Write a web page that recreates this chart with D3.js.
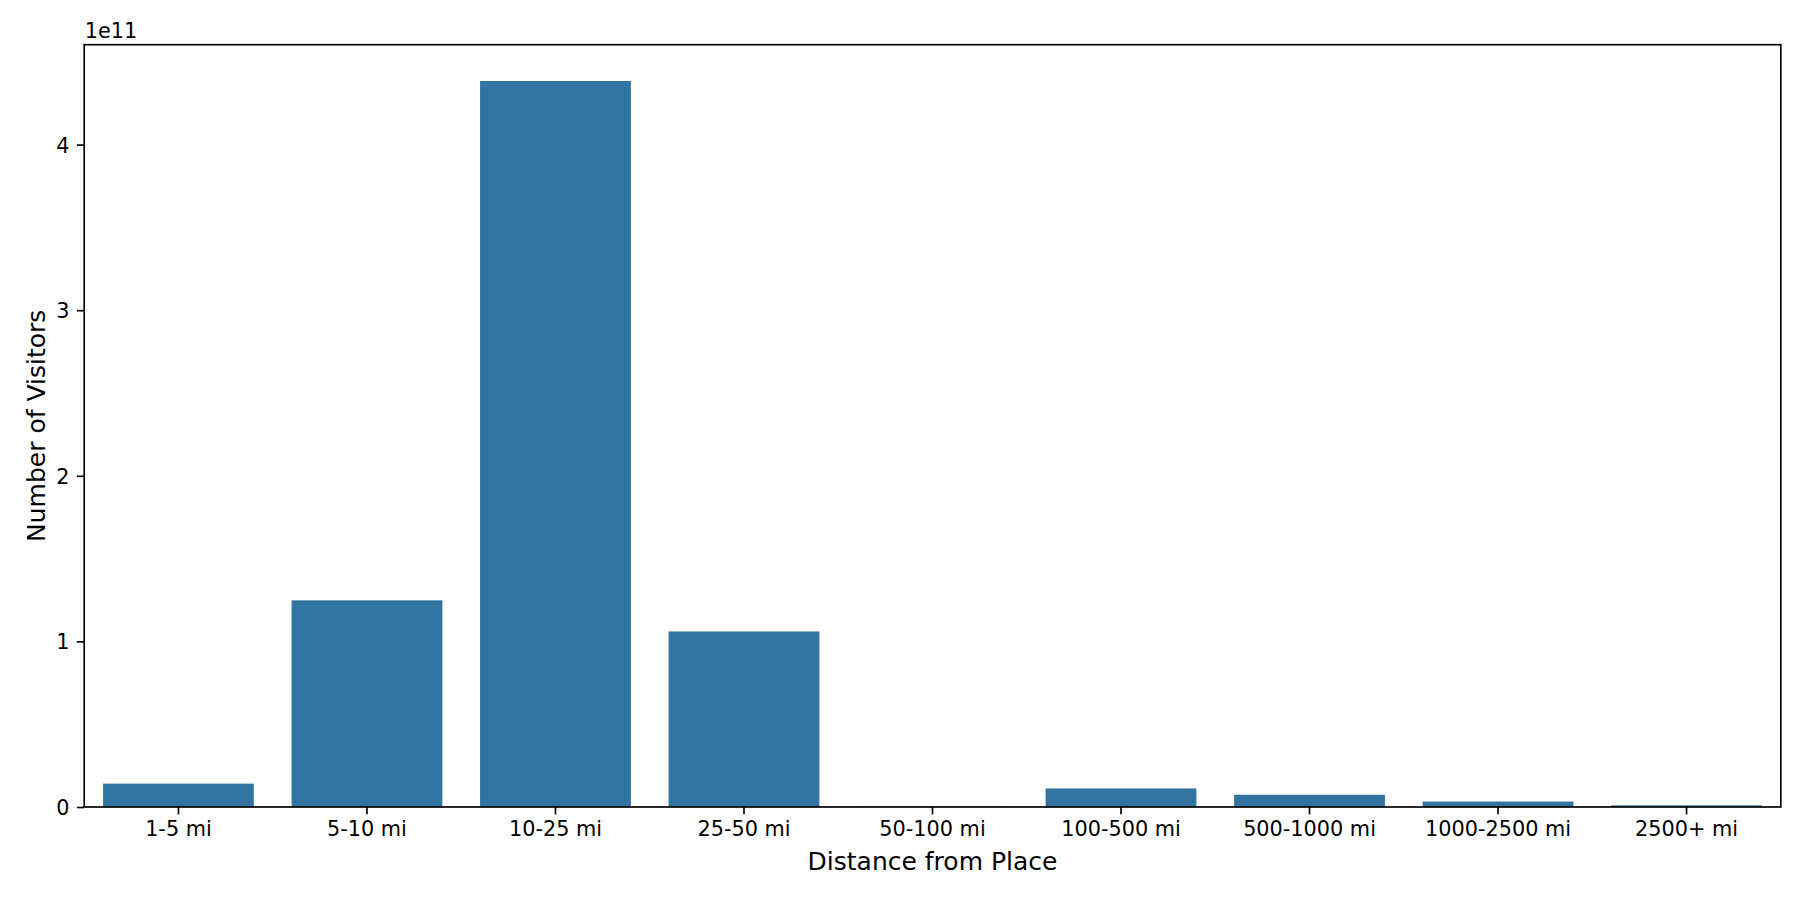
<!DOCTYPE html>
<html>
<head>
<meta charset="utf-8">
<script src="https://cdn.jsdelivr.net/npm/d3@7"></script>
<style>
  body { margin: 0; background: #fff; }
  svg text { font-family: "DejaVu Sans", sans-serif; fill: #000; }
</style>
</head>
<body>
<div class="visualize"></div>
<script>
// distance buckets and visitor totals
var categories = ["1-5 mi", "5-10 mi", "10-25 mi", "25-50 mi", "50-100 mi",
                  "100-500 mi", "500-1000 mi", "1000-2500 mi", "2500+ mi"];
var visitors = [1.41e10, 1.248e11, 4.384e11, 1.06e11, 3e8,
                1.12e10, 7.4e9, 3.3e9, 1.0e9];
var yTicks = [0, 1, 2, 3, 4];
var yOffsetLabel = "1e11";

var W = 1800, H = 900;
var margin = {top: 44.7, right: 1800 - 1780.8, bottom: 900 - 807, left: 84.2},
    width = W - margin.left - margin.right,
    height = H - margin.top - margin.bottom;

var barColor = "#3274a1";
var tickFont = 20.8, labelFont = 25;

var data = categories.map(function(c, i) { return {name: c, value: visitors[i]}; });

var x = d3.scaleBand().domain(categories).range([0, width])
    .paddingInner(0.2).paddingOuter(0.1);
var y = d3.scaleLinear()
    .domain([0, d3.max(visitors) * 1.05])
    .range([height, 0]);

var svg = d3.select(".visualize").append("svg")
    .attr("width", W)
    .attr("height", H);

var g = svg.append("g")
    .attr("transform", "translate(" + margin.left + "," + margin.top + ")");

g.selectAll(".bar")
    .data(data)
  .enter().append("rect")
    .attr("class", "bar")
    .attr("x", d => x(d.name))
    .attr("width", x.bandwidth())
    .attr("y", d => y(d.value))
    .attr("height", d => height - y(d.value))
    .attr("fill", barColor);

var xAxis = d3.axisBottom(x).tickSize(7.3).tickPadding(7.3);
var yAxis = d3.axisLeft(y)
    .tickValues(yTicks.map(t => t * 1e11))
    .tickFormat(d => d3.format("d")(d / 1e11))
    .tickSize(7.3).tickPadding(7.3);

var gx = g.append("g")
    .attr("class", "x axis")
    .attr("transform", "translate(0," + height + ")")
    .call(xAxis);
gx.select(".domain").remove();
gx.selectAll("line").attr("stroke", "#000").attr("stroke-width", 1.67);
gx.selectAll("text").style("font-size", tickFont + "px");

var gy = g.append("g")
    .attr("class", "y axis")
    .call(yAxis);
gy.select(".domain").remove();
gy.selectAll("line").attr("stroke", "#000").attr("stroke-width", 1.67);
gy.selectAll("text").style("font-size", tickFont + "px").attr("dy", "0.36em");

// frame round the axes
g.append("rect")
    .attr("width", width)
    .attr("height", height)
    .attr("fill", "none")
    .attr("stroke", "#000")
    .attr("stroke-width", 1.67);

// offset text above the y axis
g.append("text")
    .attr("x", 0.5)
    .attr("y", -6.5)
    .style("font-size", tickFont + "px")
    .text(yOffsetLabel);

svg.append("text")
    .attr("x", margin.left + width / 2)
    .attr("y", 869.5)
    .attr("text-anchor", "middle")
    .style("font-size", labelFont + "px")
    .text("Distance from Place");

svg.append("text")
    .attr("transform", "translate(44.5," + (margin.top + height / 2) + ") rotate(-90)")
    .attr("text-anchor", "middle")
    .style("font-size", labelFont + "px")
    .text("Number of Visitors");
</script>
</body>
</html>
